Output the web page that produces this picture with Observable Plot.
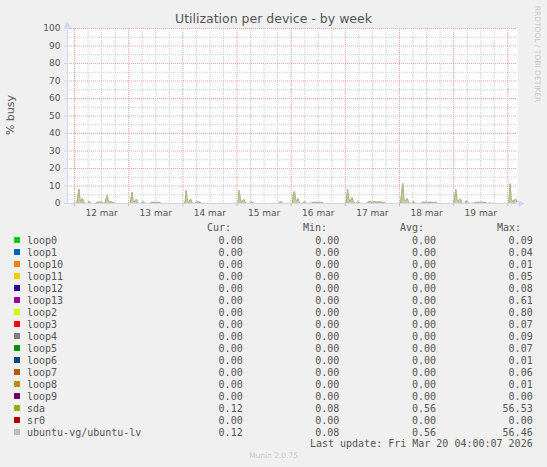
<!DOCTYPE html>
<html>
<head>
<meta charset="utf-8">
<script src="https://cdn.jsdelivr.net/npm/d3@7"></script>
<script src="https://cdn.jsdelivr.net/npm/@observablehq/plot@0.6"></script>
<style>
  html, body { margin: 0; padding: 0; background: #f0f0f0; }
  #wrap { position: relative; width: 547px; height: 467px; background: #f0f0f0; overflow: hidden; font-family: "DejaVu Sans", sans-serif; }
  #chart { position: absolute; left: 0; top: 0; }
  .abs { position: absolute; white-space: pre; }
  .mono { font-family: "DejaVu Sans Mono", monospace; font-size: 10px; color: #555; line-height: 12px; }
</style>
</head>
<body>
<div id="wrap">
  <div id="chart"></div>
</div>
<script>
// ---- data (30-minute samples, % busy) ----
const mar11Tail = [0, 0, 0, 0, 0, 0]; // 21:00 - 23:30
const mar12 = [0,0,0.3,4.0,8.2,1.5,1.5,2.9,0.8,0.3, 0,0,0,1.3,0.5,0,0,0,0,0, 0.9,0.6,0.9,0.5,0.8,0.4,0,0,2.5,4.7, 1.2,1.0,0.8,0.9,0.6,0.3,0,0,0,0, 0,0,0,0,0,0,0,0];
const mar13 = [0,0,2.0,6.5,1.5,0.8,1.8,2.5,0.6,0, 0,0,0.5,1.0,0.4,0,0,0,0,0, 0.6,0.7,0.6,0.7,0.6,0.7,0.6,0.7,0.5,0, 0,0,0,0,0,0,0,0,0,0, 0,0,0,0,0,0,0,0];
const mar14 = [0,0,0.5,7.6,2.0,0.8,1.5,2.5,0.6,0, 0,0,0.9,1.0,0.8,0.9,0.3,0,0,0, 0,0,0,0,0,0,0,0,0,0, 0,0,0,0,0,0,0,0,0,0, 0,0,0,0,0,0,0,0];
const mar15 = [0,0.5,7.6,2.5,0.8,1.2,2.5,1.0,0.3,0, 0,0,0.6,1.0,0.5,0,0,0,0,0, 0,0,0,0,0,0,0,0,0,0, 0,0,0,0,0,0,0,0,0.8,1.0, 0.4,0,0,0,0,0,0,0];
const mar16 = [0,0,5.5,7.0,2.0,1.5,2.9,1.0,0,0, 0,0.7,1.0,0.4,0,0,0,0,0,0.6, 0.7,0.7,0.6,0.7,0.6,0.7,0.6,0.7,0.4,0, 0,0,0,0,0,0,0,0,0,0, 0,0,0,0,0,0,0,0];
const mar17 = [0,0.5,8.2,3.0,1.0,2.0,3.4,1.2,0.5,0, 0,1.0,0.8,0,0,0,0,0,0,0, 0.7,0.8,1.0,0.9,0.7,0.9,1.2,0.9,0.8,0.7, 1.0,0.8,0.7,0.6,0.7,0.4,0,0,0,0, 0,0,0,0,0,0,0,0];
const mar18 = [0,0,6.0,11.4,2.5,1.5,2.0,2.9,0.8,0, 0,0,1.0,0.8,0,0,0,0,0,0, 0.6,0.7,0.7,0.6,0.7,0.7,0.6,0.7,0.7,0.6, 0.7,0.6,0.7,0.4,0,0,0,0,0,0, 0,0,0,0,0,0,0,0];
const mar19 = [0,4.0,8.0,2.5,1.5,2.0,2.5,0.8,0,0, 0,1.5,1.2,0.5,0,0,0,0,0,0.7, 0.6,0.7,0.7,0.6,0.7,0.7,0.6,0.7,0.6,0.4, 0,0,0.5,0,0,0,0,0,0,0, 0,0,0,0,0,0,0,0];
const mar20 = [0,0.5,11.4,3.0,1.0,1.5,2.0,2.5,1.0]; // 00:00 - 04:00

// ---- legend table ----
const names  = ["loop0","loop1","loop10","loop11","loop12","loop13","loop2","loop3","loop4","loop5","loop6","loop7","loop8","loop9","sda","sr0","ubuntu-vg/ubuntu-lv"];
const colors = ["#00CC00","#0066B3","#FF8000","#FFCC00","#330099","#990099","#CCFF00","#FF0000","#808080","#008F00","#00487D","#B35A00","#B38F00","#6B006B","#8FB300","#B30000","#BEBEBE"];
const curV = ["0.00","0.00","0.00","0.00","0.00","0.00","0.00","0.00","0.00","0.00","0.00","0.00","0.00","0.00","0.12","0.00","0.12"];
const minV = ["0.00","0.00","0.00","0.00","0.00","0.00","0.00","0.00","0.00","0.00","0.00","0.00","0.00","0.00","0.08","0.00","0.08"];
const avgV = ["0.00","0.00","0.00","0.00","0.00","0.00","0.00","0.00","0.00","0.00","0.00","0.00","0.00","0.00","0.56","0.00","0.56"];
const maxV = ["0.09","0.04","0.01","0.05","0.08","0.61","0.80","0.07","0.09","0.07","0.01","0.06","0.01","0.00","56.53","0.00","56.46"];
const headers = ["Cur:","Min:","Avg:","Max:"];
const yTicks = [0,10,20,30,40,50,60,70,80,90,100];
const yMinor = [5,15,25,35,45,55,65,75,85,95];

const startT = new Date(Date.UTC(2026, 2, 11, 20, 54));
const endT   = new Date(Date.UTC(2026, 2, 20, 4, 18));

// ---- build table ----
const HALF = 30 * 60 * 1000;
const days = [
  [Date.UTC(2026,2,11,21,0), mar11Tail],
  [Date.UTC(2026,2,12), mar12], [Date.UTC(2026,2,13), mar13], [Date.UTC(2026,2,14), mar14],
  [Date.UTC(2026,2,15), mar15], [Date.UTC(2026,2,16), mar16], [Date.UTC(2026,2,17), mar17],
  [Date.UTC(2026,2,18), mar18], [Date.UTC(2026,2,19), mar19], [Date.UTC(2026,2,20), mar20]
];
const rows = [];
for (const [t0, arr] of days) arr.forEach((v, i) => rows.push({t: new Date(t0 + i * HALF), sda: v, lv: v}));

const midnights = d3.utcDay.range(startT, endT);
const sixHours = d3.utcHour.every(6).range(startT, endT).filter(d => d.getUTCHours() !== 0);
const noons = midnights.map(d => new Date(+d + 12 * 3600 * 1000)).filter(d => d < endT);

const minorC = "#cfcfcf", majorC = "#e6a3a3", axisC = "#CFD6F8";

const plot = Plot.plot({
  width: 547, height: 220,
  marginLeft: 67, marginRight: 30, marginTop: 28, marginBottom: 17,
  style: {background: "transparent", fontFamily: "DejaVu Sans, sans-serif", fontSize: "9px", color: "#555"},
  x: {type: "utc", domain: [startT, endT]},
  y: {domain: [0, 100]},
  marks: [
    Plot.frame({fill: "white", stroke: "none"}),
    Plot.ruleY(yMinor, {stroke: minorC, strokeDasharray: "1,1"}),
    Plot.ruleX(sixHours, {stroke: minorC, strokeDasharray: "1,1"}),
    Plot.ruleY(yTicks.slice(1), {stroke: majorC, strokeDasharray: "1,1"}),
    Plot.ruleX(midnights, {stroke: majorC, strokeDasharray: "1,1"}),
    Plot.areaY(rows, {x: "t", y: "sda", fill: "#c8cca4", curve: "linear"}),
    Plot.lineY(rows, {x: "t", y: "sda", stroke: "#9fae45", strokeWidth: 1}),
    Plot.lineY(rows, {x: "t", y: "lv", stroke: "#BEBEBE", strokeWidth: 1, strokeOpacity: 0.55}),
    Plot.axisY(yTicks, {tickSize: 3, tickPadding: 4, stroke: axisC, fill: "#555", fontSize: 9, label: null}),
    Plot.axisX(midnights, {tickSize: 3, stroke: majorC, tickFormat: () => "", label: null}),
    Plot.axisX(noons, {tickSize: 0, tickPadding: 6, fill: "#555", fontSize: 9, label: null,
      tickFormat: d => `${d.getUTCDate()} mar`}),
    Plot.ruleY([0], {stroke: axisC, x1: startT, x2: endT}),
    Plot.ruleX([startT], {stroke: axisC, y1: 0, y2: 100}),
    Plot.dot([0], {x: endT, y: 0, symbol: "triangle", r: 2.6, fill: axisC, rotate: 90, dx: 3}),
    Plot.dot([0], {x: startT, y: 100, symbol: "triangle", r: 2.6, fill: axisC, dy: -3})
  ]
});
document.getElementById("chart").appendChild(plot);

// ---- texts ----
const wrap = document.getElementById("wrap");
function addText(txt, css, cls) {
  const d = document.createElement("div");
  d.className = "abs" + (cls ? " " + cls : "");
  d.textContent = txt;
  Object.assign(d.style, css);
  wrap.appendChild(d);
  return d;
}
addText("Utilization per device - by week", {left: "0px", width: "547px", textAlign: "center", top: "11px", fontSize: "12.5px", color: "#555", lineHeight: "16px"});
addText("% busy", {left: "11px", top: "115px", fontSize: "11px", color: "#555", transform: "translate(-50%,-50%) rotate(-90deg)", lineHeight: "12px"});
addText("RRDTOOL / TOBI OETIKER", {left: "537px", top: "54px", fontSize: "7.5px", color: "#c8c8c8", transform: "translate(-50%,-50%) rotate(90deg)", lineHeight: "8px"});

// legend headers
const headerLeft = [207, 303, 400, 497];
headers.forEach((h, i) => addText(h, {left: headerLeft[i] + "px", top: "222px"}, "mono"));
const colRight = [242.7, 339.3, 436, 532.7];
const cols = [curV, minV, avgV, maxV];
names.forEach((n, i) => {
  const yc = 240.5 + i * 12;
  const sw = document.createElement("div");
  sw.className = "abs";
  Object.assign(sw.style, {left: "14px", top: (yc - 3.5) + "px", width: "6px", height: "6px", background: colors[i]});
  wrap.appendChild(sw);
  addText(n, {left: "27px", top: (yc - 5.5) + "px"}, "mono");
  cols.forEach((c, j) => addText(c[i], {left: (colRight[j] - 200) + "px", width: "200px", textAlign: "right", top: (yc - 5.5) + "px"}, "mono"));
});
addText("Last update: Fri Mar 20 04:00:07 2026", {left: "232.7px", width: "300px", textAlign: "right", top: "438px"}, "mono");
addText("Munin 2.0.75", {left: "0px", width: "547px", textAlign: "center", top: "451px", fontSize: "7.5px", color: "#c8c8c8", lineHeight: "9px"});
</script>
</body>
</html>
